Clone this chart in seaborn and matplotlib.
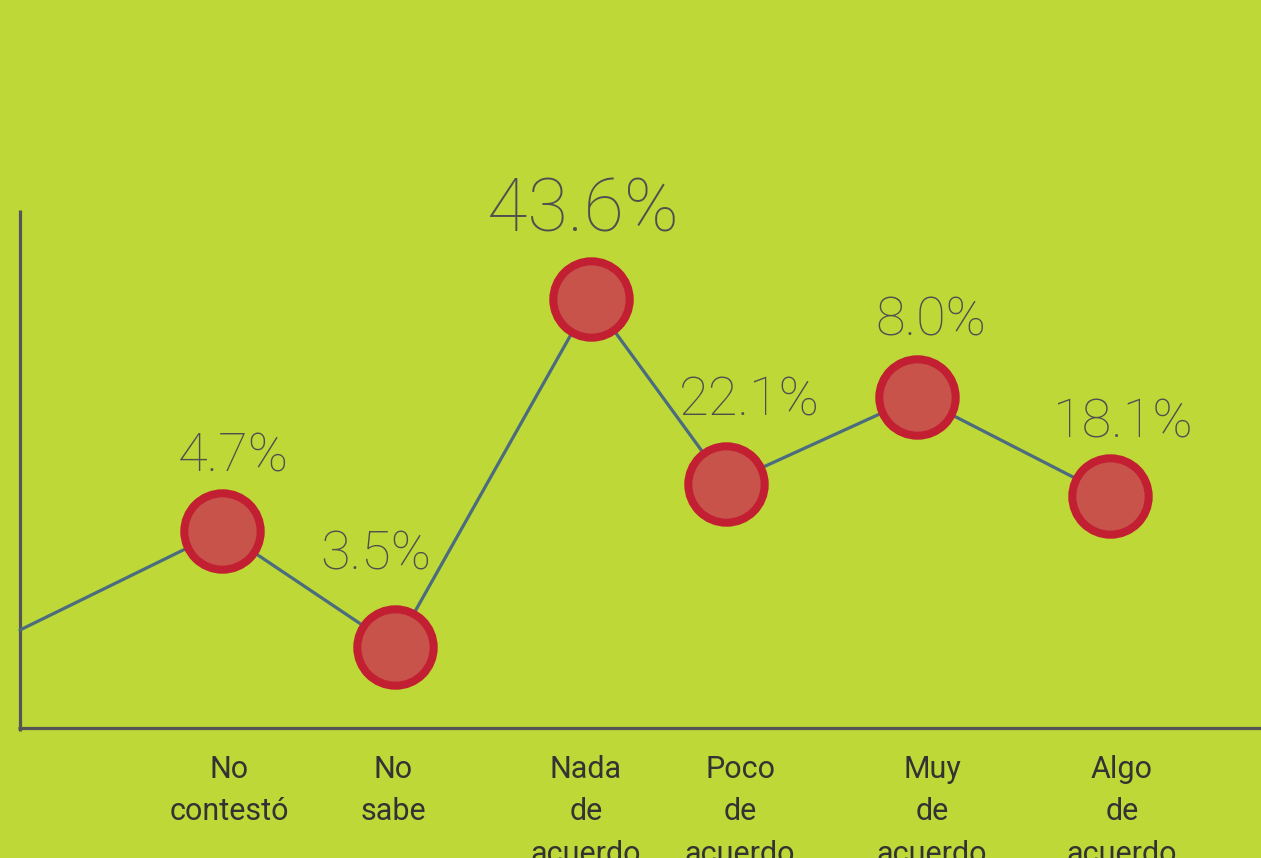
import matplotlib
matplotlib.use("Agg")
import matplotlib.pyplot as plt
import seaborn as sns
import pandas as pd

# --- data ---
categories = ["No\ncontestó", "No\nsabe", "Nada\nde\nacuerdo", "Poco\nde\nacuerdo", "Muy\nde\nacuerdo", "Algo\nde\nacuerdo"]
values = [4.7, 3.5, 43.6, 22.1, 8.0, 18.1]
value_labels = ["4.7%", "3.5%", "43.6%", "22.1%", "8.0%", "18.1%"]
# vertical level of each point as drawn in the infographic (arbitrary units above the baseline)
levels = [197, 81, 429, 244, 331, 232]
start_level = 98

# --- layout / style ---
xpos = [222, 395, 591, 726, 917, 1110]
tick_x = [229, 393, 586, 740, 932, 1122]
label_dx = [11, -19, -8, 23, 14, 12]
label_dy = [59, 77, 67, 69, 61, 58]
label_size = [39, 39, 53, 39, 39, 39]
BG = "#BED838"
LINE = "#4B6C7E"
EDGE = "#C21F32"
FILL = "#C8534A"
TEXT = "#4F4F4F"

sns.set_theme(style="white")
plt.rcParams["font.family"] = ["Lato", "DejaVu Sans"]

W, H = 1261, 858
fig = plt.figure(figsize=(W / 100, H / 100), dpi=100, facecolor=BG)
ax = fig.add_axes([0, 0, 1, 1])
ax.set_facecolor(BG)
base = 728
ax.set_xlim(0, W)
ax.set_ylim(base - H, base)  # y in "level" units: 0 at baseline

df = pd.DataFrame({"x": [20] + xpos, "y": [start_level] + levels})
sns.lineplot(data=df, x="x", y="y", ax=ax, color=LINE, linewidth=2.3, sort=False, zorder=2)
pts = pd.DataFrame({"x": xpos, "y": levels})
ax.plot(pts["x"], pts["y"], linestyle="none", marker="o", markersize=55,
        markerfacecolor=FILL, markeredgecolor=EDGE, markeredgewidth=5.8, zorder=3)

for x, y, lab, dx, dy, fs in zip(xpos, levels, value_labels, label_dx, label_dy, label_size):
    ax.text(x + dx, y + dy, lab, ha="center", va="baseline", fontsize=fs,
            fontweight="light", color=TEXT, family=["Roboto", "DejaVu Sans"], zorder=4)

# axes lines
ax.plot([20, 20], [base - 731, base - 210], color="#555555", linewidth=2.3, solid_capstyle="butt", zorder=1)
ax.plot([18, W], [0, 0], color="#555555", linewidth=2.3, solid_capstyle="butt", zorder=1)

# category labels
for tx, cat in zip(tick_x, categories):
    ax.text(tx, base - 755, cat, ha="center", va="top", fontsize=22, color="#333333",
            linespacing=1.58, family=["Roboto", "DejaVu Sans"], zorder=4)

for s in ax.spines.values():
    s.set_visible(False)
ax.set_xticks([])
ax.set_yticks([])
ax.set_xlabel("")
ax.set_ylabel("")

fig.savefig("out.png", dpi=100, facecolor=BG)
